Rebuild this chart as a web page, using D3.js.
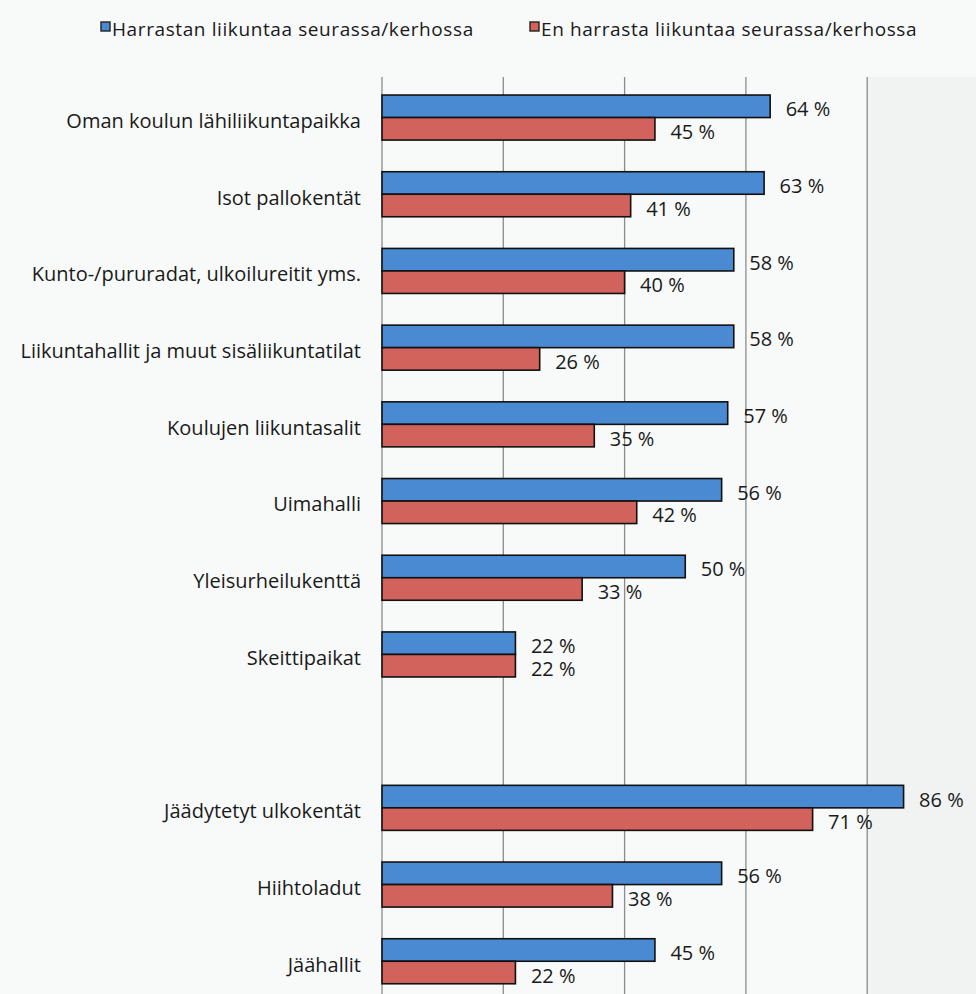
<!DOCTYPE html>
<html>
<head>
<meta charset="utf-8">
<script src="https://cdn.jsdelivr.net/npm/d3@7"></script>
<style>
  html, body { margin: 0; padding: 0; background: #f8f9f9; }
  svg { display: block; }
  text { font-family: "Open Sans", "Noto Sans", sans-serif; fill: #1a1a1a; }
</style>
</head>
<body>
<svg id="chart" width="976" height="994"></svg>
<script>
// Facilities (the empty string is a spacer row between the two groups)
const categories = [
  "Oman koulun lähiliikuntapaikka",
  "Isot pallokentät",
  "Kunto-/pururadat, ulkoilureitit yms.",
  "Liikuntahallit ja muut sisäliikuntatilat",
  "Koulujen liikuntasalit",
  "Uimahalli",
  "Yleisurheilukenttä",
  "Skeittipaikat",
  "",
  "Jäädytetyt ulkokentät",
  "Hiihtoladut",
  "Jäähallit"
];
const seriesNames = [
  "Harrastan liikuntaa seurassa/kerhossa",
  "En harrasta liikuntaa seurassa/kerhossa"
];
const clubMembers = [64, 63, 58, 58, 57, 56, 50, 22, null, 86, 56, 45];
const nonMembers  = [45, 41, 40, 26, 35, 42, 33, 22, null, 71, 38, 22];
const gridTicks = [0, 20, 40, 60, 80];

const colors = ["#4a8ad2", "#d2625c"];

const svg = d3.select("#chart");
const W = 976, H = 994;
const FS = 20;

const x = d3.scaleLinear().domain([0, 100]).range([382, 988.5]);
const y = d3.scaleBand().domain(d3.range(categories.length))
  .range([79.2, 79.2 + 76.7 * categories.length])
  .paddingInner(0.413).paddingOuter(0.2065);
const sub = d3.scaleBand().domain([0, 1]).range([0, y.bandwidth()]);

// Faint shading beyond the last gridline
svg.append("rect")
  .attr("x", x(80)).attr("y", 77)
  .attr("width", W - x(80)).attr("height", H - 77)
  .attr("fill", "#f1f2f2");

// Vertical gridlines (0 doubles as the axis)
svg.append("g").selectAll("line").data(gridTicks).join("line")
  .attr("x1", d => x(d)).attr("x2", d => x(d))
  .attr("y1", 77).attr("y2", H)
  .attr("stroke", "#8c8c8c").attr("stroke-width", 1.3);

// Category labels
svg.append("g").selectAll("text").data(categories).join("text")
  .attr("x", 361)
  .attr("y", (d, i) => y(i) + y.bandwidth() / 2 + 10.3)
  .attr("text-anchor", "end")
  .attr("font-size", FS)
  .text(d => d);

const rows = categories.map((c, i) => ({ i, vals: [clubMembers[i], nonMembers[i]] }))
  .filter(r => r.vals[0] != null);

const bars = [];
rows.forEach(r => r.vals.forEach((v, s) => bars.push({ i: r.i, s, v })));

svg.append("g").selectAll("rect").data(bars).join("rect")
  .attr("x", x(0))
  .attr("y", d => y(d.i) + sub(d.s))
  .attr("width", d => x(d.v) - x(0))
  .attr("height", sub.bandwidth())
  .attr("fill", d => colors[d.s])
  .attr("stroke", "#111")
  .attr("stroke-width", 1.6);

// Value labels
svg.append("g").selectAll("text").data(bars).join("text")
  .attr("x", d => x(d.v) + 15.5)
  .attr("y", d => y(d.i) + sub(d.s) + sub.bandwidth() / 2 + 10)
  .attr("font-size", FS)
  .text(d => d.v + " %");

// Legend
const legendX = [101, 530];
const lg = svg.append("g").selectAll("g").data(seriesNames).join("g")
  .attr("transform", (d, i) => `translate(${legendX[i]},0)`);
lg.append("rect")
  .attr("x", 0).attr("y", 22).attr("width", 9).attr("height", 9)
  .attr("fill", (d, i) => colors[i])
  .attr("stroke", "#222").attr("stroke-width", 1.4);
lg.append("text")
  .attr("x", 11).attr("y", 36)
  .attr("font-size", 19)
  .attr("letter-spacing", 0.6)
  .text(d => d);
</script>
</body>
</html>
